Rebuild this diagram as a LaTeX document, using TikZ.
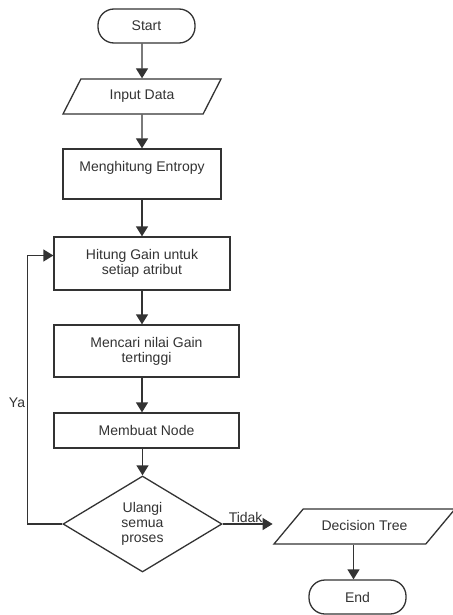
\documentclass[tikz,border=0pt]{standalone}
\usepackage{fontspec}
\setmainfont{Liberation Sans}
\usepackage{xcolor}
\usetikzlibrary{arrows.meta,shapes.geometric}
\definecolor{ink}{HTML}{333333}
\tikzset{
  term/.style={draw=ink, line width=1.3pt, rounded corners=16pt, minimum width=97pt,
               minimum height=34pt, inner sep=0pt},
  procbox/.style={draw=ink, line width=1.3pt, align=center, inner sep=0pt},
  iobox/.style={draw=ink, line width=1.3pt, trapezium, trapezium stretches body,
                text height=10pt, text depth=3pt, inner sep=0pt},
  decision/.style={draw=ink, line width=1.3pt, diamond, align=center, inner sep=0pt,
                   minimum width=159pt, minimum height=96pt},
  flow/.style={draw=ink, line width=1.3pt, ->},
}

\begin{document}
\begin{tikzpicture}[x=1pt, y=-1pt, >={Triangle[length=10pt,width=12pt]},
    font=\fontsize{14}{15}\selectfont, text=ink]
    \useasboundingbox[fill=white] (0,0) rectangle (452,615);
    \node[term] (start) at (146.5,26) {Start};
    \node[iobox, trapezium left angle=36, trapezium right angle=144,
          minimum width=158pt, minimum height=35pt] (input) at (142,96.5) {Input Data};
    \node[procbox, minimum width=158pt, minimum height=50pt, text depth=15pt]
          (entropy) at (142,174) {Menghitung Entropy};
    \node[procbox, minimum width=176pt, minimum height=53pt] (gain) at (142,263.5)
          {Hitung Gain untuk\\setiap atribut};
    \node[procbox, minimum width=185pt, minimum height=52pt] (maxgain) at (146.5,351)
          {Mencari nilai Gain\\tertinggi};
    \node[procbox, minimum width=185pt, minimum height=35pt] (mknode) at (146.5,430.5)
          {Membuat Node};
    \node[decision] (ulang) at (142.5,524) {Ulangi\\semua\\proses};
    \node[iobox, trapezium left angle=24, trapezium right angle=156,
          minimum width=181pt, minimum height=35pt] (dtree) at (364.5,526.5) {Decision Tree};
    \node[term] (end) at (357.5,597) {End};
    \coordinate (endin) at ([xshift=-4pt]end.north);

    \draw[flow] (start.south -| input) -- (input);
    \draw[flow] (input) -- (entropy);
    \draw[flow] (entropy) -- (gain);
    \draw[flow] (gain) -- (maxgain.north -| gain);
    \draw[flow] (maxgain.south -| gain) -- (mknode.north -| gain);
    \draw[flow] (mknode.south -| ulang) -- (ulang);
    \draw[flow] (ulang.west) -- ++(-35,0) |- ([yshift=8pt]gain.west);
    \node (ya) at (17,403) {Ya};
    \draw[flow] (ulang.east) -- node[above, inner sep=1pt, xshift=-2pt] (tidak) {Tidak}
          (ulang.east -| dtree.bottom left corner);
    \draw[flow] (dtree.south -| endin) -- (endin);
\end{tikzpicture}
\end{document}
